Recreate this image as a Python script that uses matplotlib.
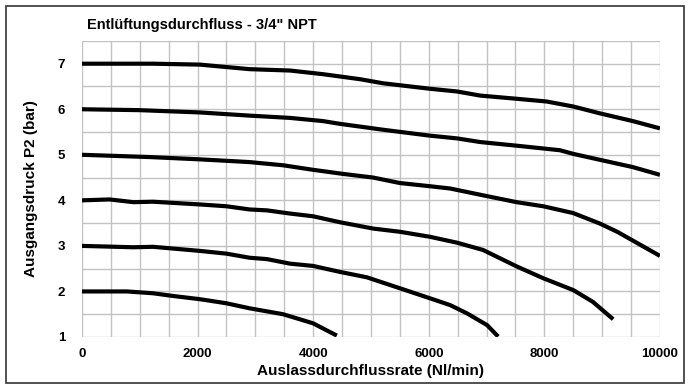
import numpy as np
import matplotlib.pyplot as plt
from matplotlib.patches import Rectangle

plt.rcParams['font.family'] = ['Liberation Sans', 'DejaVu Sans']
plt.rcParams['font.weight'] = 'bold'

# Entlüftungsdurchfluss
x7 = [0, 1230, 2040, 2900, 3600, 4170, 4460, 4810, 5210, 6020, 6490, 6890, 7520, 8040, 8500, 8960, 9530, 10000]
p7 = [7.0, 7.0, 6.98, 6.88, 6.85, 6.77, 6.72, 6.66, 6.57, 6.45, 6.39, 6.30, 6.23, 6.17, 6.06, 5.91, 5.74, 5.58]

x6 = [0, 1000, 2040, 2900, 3600, 4170, 4460, 5210, 6020, 6490, 6890, 7520, 8270, 8500, 8960, 9530, 10000]
p6 = [6.0, 5.98, 5.93, 5.86, 5.81, 5.74, 5.68, 5.55, 5.42, 5.36, 5.28, 5.20, 5.10, 5.02, 4.89, 4.73, 4.56]

x5 = [0, 1180, 2040, 2900, 3480, 4000, 4520, 5040, 5500, 6020, 6370, 6940, 7520, 7980, 8500, 8960, 9260, 10000]
p5 = [5.0, 4.95, 4.90, 4.84, 4.77, 4.67, 4.58, 4.50, 4.38, 4.31, 4.26, 4.11, 3.96, 3.87, 3.72, 3.49, 3.31, 2.78]

x4 = [0, 480, 890, 1230, 2040, 2500, 2900, 3200, 3600, 4000, 4460, 5040, 5500, 6020, 6490, 6940, 7520, 7980, 8500, 8840, 9190]
p4 = [4.0, 4.02, 3.96, 3.97, 3.91, 3.87, 3.80, 3.78, 3.71, 3.65, 3.52, 3.38, 3.31, 3.20, 3.07, 2.91, 2.55, 2.29, 2.03, 1.77, 1.39]

x3 = [0, 890, 1230, 2040, 2500, 2900, 3200, 3600, 4000, 4460, 4930, 5500, 6020, 6370, 6660, 7010, 7200]
p3 = [3.0, 2.97, 2.98, 2.89, 2.83, 2.74, 2.71, 2.61, 2.56, 2.43, 2.31, 2.07, 1.85, 1.70, 1.52, 1.26, 1.01]

x2 = [0, 780, 1230, 1580, 2040, 2500, 2900, 3480, 4000, 4410]
p2 = [2.0, 2.0, 1.96, 1.90, 1.83, 1.74, 1.63, 1.50, 1.30, 1.03]

curves = [(x7, p7), (x6, p6), (x5, p5), (x4, p4), (x3, p3), (x2, p2)]

fig = plt.figure(figsize=(6.94, 3.85), dpi=100)
ax = fig.add_axes([0.118, 0.1247, 0.833, 0.769])

for xs, ps in curves:
    ax.plot(xs, ps, color='black', lw=3, solid_capstyle='butt', solid_joinstyle='round')

ax.set_xlim(0, 10000)
ax.set_ylim(1, 7.5)
ax.set_xticks(np.arange(0, 10001, 500), minor=True)
ax.set_yticks(np.arange(1, 7.51, 0.5), minor=True)
ax.set_xticks([0, 2000, 4000, 6000, 8000, 10000])
ax.set_yticks([1, 2, 3, 4, 5, 6, 7])
ax.grid(True, which='both', color='#c2c2c2', lw=1)
ax.set_axisbelow(True)
ax.tick_params(which='both', length=0, labelsize=9.5)
ax.tick_params(axis='y', pad=12)
ax.tick_params(axis='x', pad=8)
for s in ax.spines.values():
    s.set_visible(False)

ax.set_xlabel('Auslassdurchflussrate (Nl/min)', fontsize=11, fontweight='bold', labelpad=3)
ax.set_ylabel('Ausgangsdruck P2 (bar)', fontsize=11, fontweight='bold', labelpad=14)
fig.text(87 / 694, 1 - 25 / 385, 'Entlüftungsdurchfluss - 3/4" NPT', fontsize=10.5,
         fontweight='bold', va='center', ha='left')

# Rahmen um die ganze Grafik
fig.patches.append(Rectangle((6 / 694, 2 / 385), 678 / 694, 377 / 385, transform=fig.transFigure,
                             fill=False, edgecolor='#333333', lw=1.2))

fig.savefig('out.png', dpi=100)
